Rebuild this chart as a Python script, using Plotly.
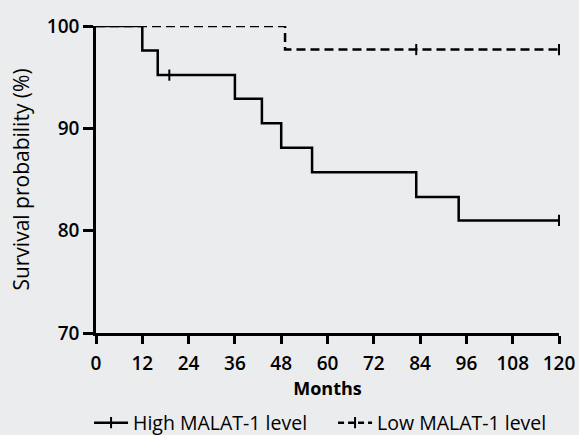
import plotly.graph_objects as go

# Kaplan-Meier data (months, survival %)
high_time = [0, 12, 16, 36, 43, 48, 56, 83, 94, 120]
high_surv = [100, 97.6, 95.2, 92.9, 90.5, 88.1, 85.7, 83.3, 81.0, 81.0]
high_censor_time = [19, 120]
high_censor_surv = [95.2, 81.0]

low_time = [0, 49, 120]
low_surv = [100, 97.7, 97.7]
low_censor_time = [83, 120]
low_censor_surv = [97.7, 97.7]

x_ticks = [0, 12, 24, 36, 48, 60, 72, 84, 96, 108, 120]
y_ticks = [70, 80, 90, 100]

FONT = "Open Sans"
BG = "#ebeced"
LW = 2.5

fig = go.Figure()

fig.add_trace(go.Scatter(x=high_time, y=high_surv, mode="lines", line_shape="hv",
                         line=dict(color="black", width=LW), showlegend=False, cliponaxis=False))
fig.add_trace(go.Scatter(x=low_time, y=low_surv, mode="lines", line_shape="hv",
                         line=dict(color="black", width=LW, dash="9px,5px"), showlegend=False, cliponaxis=False))
fig.add_trace(go.Scatter(x=high_censor_time, y=high_censor_surv, mode="markers",
                         marker=dict(symbol="line-ns", size=8, line=dict(color="black", width=2)),
                         showlegend=False, cliponaxis=False))
fig.add_trace(go.Scatter(x=low_censor_time, y=low_censor_surv, mode="markers",
                         marker=dict(symbol="line-ns", size=8, line=dict(color="black", width=2)),
                         showlegend=False, cliponaxis=False))

# legend entries
fig.add_trace(go.Scatter(x=[None], y=[None], mode="lines+markers", name="High MALAT-1 level",
                         line=dict(color="black", width=LW),
                         marker=dict(symbol="line-ns", size=8, line=dict(color="black", width=2))))
fig.add_trace(go.Scatter(x=[None], y=[None], mode="lines+markers", name="Low MALAT-1 level",
                         line=dict(color="black", width=LW, dash="6px,4px"),
                         marker=dict(symbol="line-ns", size=8, line=dict(color="black", width=2))))

fig.update_layout(
    width=579, height=435,
    margin=dict(l=96, r=20, t=26, b=102, autoexpand=False),
    paper_bgcolor=BG, plot_bgcolor=BG,
    font=dict(family=FONT, color="black"),
    legend=dict(orientation="h", x=-0.015, xanchor="left", y=-0.293, yanchor="middle",
                font=dict(size=19.5, family=FONT), bgcolor="rgba(0,0,0,0)",
                entrywidth=195, itemwidth=34, tracegroupgap=0),
)

fig.update_xaxes(range=[0, 120], tickvals=x_ticks, ticktext=[str(v) for v in x_ticks],
                 showline=True, linecolor="black", linewidth=LW, ticks="outside",
                 ticklen=8, tickwidth=LW, tickcolor="black", showgrid=False, zeroline=False,
                 automargin=False, ticklabelstandoff=3,
                 tickfont=dict(size=19, family=FONT, weight=600),
                 title=dict(text="Months", font=dict(size=18, family=FONT, weight=700), standoff=2))
fig.update_yaxes(range=[70, 100], tickvals=y_ticks, ticktext=[str(v) for v in y_ticks],
                 showline=True, linecolor="black", linewidth=LW, ticks="outside",
                 ticklen=10, tickwidth=LW, tickcolor="black", showgrid=False, zeroline=False,
                 automargin=False,
                 tickfont=dict(size=19, family=FONT, weight=600),
                 title=dict(text="Survival probability (%)", font=dict(size=21, family=FONT), standoff=12))

fig.write_html("out.html", config={"displayModeBar": False},
               post_script="document.body.style.margin='0';")
